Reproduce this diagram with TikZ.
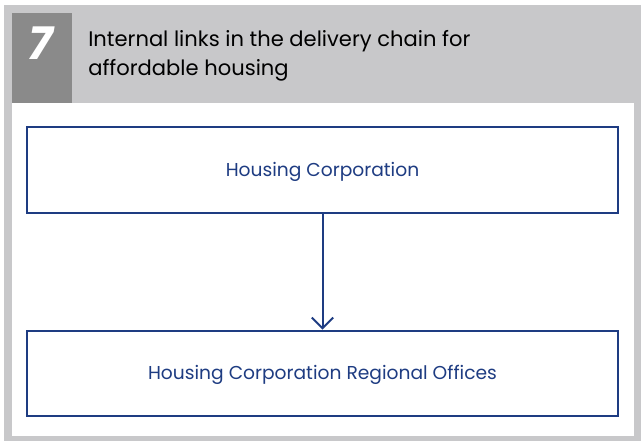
\documentclass[tikz,border=0pt]{standalone}
\usepackage{fontspec}
\setmainfont{Poppins}
\usetikzlibrary{positioning, arrows.meta}
\definecolor{panelgray}{RGB}{200,200,202}
\definecolor{numgray}{RGB}{138,138,138}
\definecolor{chainblue}{RGB}{30,60,130}

\begin{document}
\begin{tikzpicture}[x=0.75pt, y=-0.75pt,
		chainbox/.style = {draw=chainblue, line width=1.5pt, minimum width=443pt, minimum height=64pt,
			text=chainblue, text depth=1pt, font=\fontsize{14}{16}\selectfont},
		chainarrow/.style = {chainblue, line width=1.5pt, -{Straight Barb[length=8pt, width=16pt]}}]
	\useasboundingbox (0,0) rectangle (641,441);
	% panel and header
	\fill[panelgray] (4,5) rectangle (641,441);
	\fill[white] (12,103) rectangle (634,436);
	\fill[numgray] (12,13) rectangle (72,103);
	\node[text=white, font=\fontsize{34}{34}\selectfont\bfseries\itshape] (num) at (41,43) {7};
	\node[anchor=north west, inner sep=0pt, align=left, font=\fontsize{15.8}{21.75}\selectfont] (title) at (88,30)
		{Internal links in the delivery chain for\\affordable housing};
	% delivery chain
	\node[chainbox] (corp) at (322.5,170) {Housing Corporation};
	\node[chainbox, below=87pt of corp] (regional) {Housing Corporation Regional Offices};
	\draw[chainarrow] (corp) -- (regional);
\end{tikzpicture}
\end{document}
